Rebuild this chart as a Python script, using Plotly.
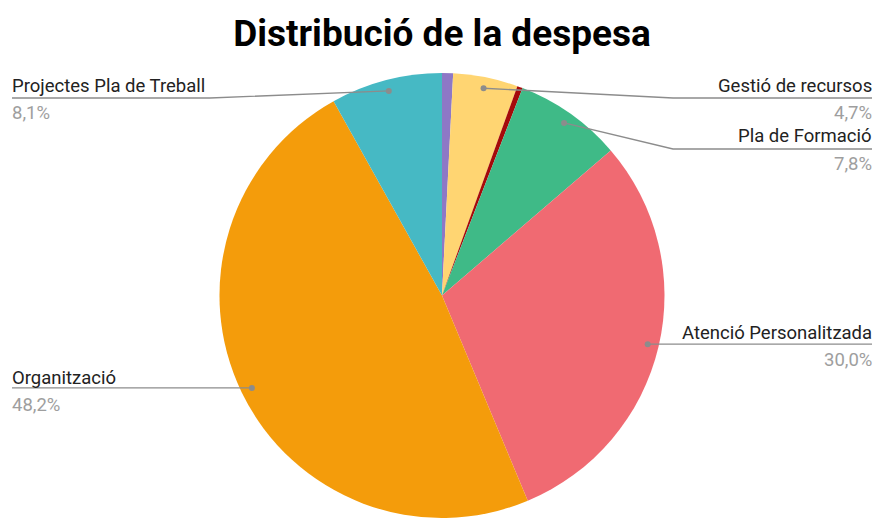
import math
import plotly.graph_objects as go

labels = ["Altres", "Gestió de recursos", "Altres 2", "Pla de Formació",
          "Atenció Personalitzada", "Organització", "Projectes Pla de Treball"]
values = [0.8, 4.7, 0.4, 7.8, 30.0, 48.2, 8.1]
pct_text = ["", "4,7%", "", "7,8%", "30,0%", "48,2%", "8,1%"]
colors = ["#8E78C6", "#FFD572", "#A50A0A", "#3FBA87", "#F06A72", "#F49C0B", "#46B9C4"]

W, H = 874, 518
ML, MR, MT, MB = 218, 208, 73, 0
pw, ph = W - ML - MR, H - MT - MB
cx, cy = ML + pw / 2, MT + ph / 2
R = min(pw, ph) / 2

def px(x):
    return (x - ML) / pw

def py(y):
    return (H - MB - y) / ph

# label layout: (index, side, elbow_x, line_y, name_y, pct_y)
label_layout = [
    (6, "left", 210, 98, 86, 113),
    (1, "right", 673, 98, 86, 113),
    (3, "right", 673, 149, 136, 164),
    (4, "right", None, None, 333, 360),
    (5, "left", None, None, 378, 405),
]

total = sum(values)
cum = 0
mids = []
for v in values:
    mids.append((cum + v / 2) / total * 2 * math.pi)
    cum += v

fig = go.Figure(go.Pie(
    labels=labels, values=values, sort=False, direction="clockwise", rotation=0,
    marker=dict(colors=colors, line=dict(width=0)), textinfo="none",
    showlegend=False,
))

shapes, annots = [], []
lc = "#8c8c8c"
for idx, side, ex, ly, ny, pyy in label_layout:
    a = mids[idx]
    dx = cx + 0.95 * R * math.sin(a)
    dy = cy - 0.95 * R * math.cos(a)
    if ly is None:
        ly = dy
    endx = 12 if side == "left" else 872
    if ex is None:
        pts = [(dx, dy), (endx, ly)]
    else:
        pts = [(dx, dy), (ex, ly), (endx, ly)]
    path = "M " + " L ".join(f"{px(x)},{py(y)}" for x, y in pts)
    shapes.append(dict(type="path", xref="paper", yref="paper", path=path,
                       line=dict(color=lc, width=1.3)))
    shapes.append(dict(type="circle", xref="paper", yref="paper",
                       xsizemode="pixel", ysizemode="pixel",
                       xanchor=px(dx), yanchor=py(dy), x0=-3, x1=3, y0=-3, y1=3,
                       fillcolor=lc, line=dict(width=0)))
    xa = "left" if side == "left" else "right"
    sh = -2 if side == "left" else 2
    annots.append(dict(x=px(endx), y=py(ny), xref="paper", yref="paper",
                       text=labels[idx], showarrow=False, xanchor=xa, yanchor="middle",
                       xshift=sh, font=dict(family="Roboto", size=18.5, color="#222222")))
    annots.append(dict(x=px(endx), y=py(pyy), xref="paper", yref="paper",
                       text=pct_text[idx], showarrow=False, xanchor=xa, yanchor="middle",
                       xshift=sh, font=dict(family="Roboto", size=18.5, color="#9e9e9e")))

fig.update_layout(
    width=W, height=H,
    margin=dict(l=ML, r=MR, t=MT, b=MB),
    paper_bgcolor="white", plot_bgcolor="white",
    title=dict(text="<b>Distribució de la despesa</b>", x=442 / W, xref="container",
               xanchor="center", y=1 - 33 / H, yanchor="middle",
               font=dict(family="Roboto", size=37, color="#000000")),
    shapes=shapes, annotations=annots,
    font=dict(family="Roboto"),
)
fig.write_html("out.html", config={"displayModeBar": False},
               post_script="document.body.style.margin='0';")
